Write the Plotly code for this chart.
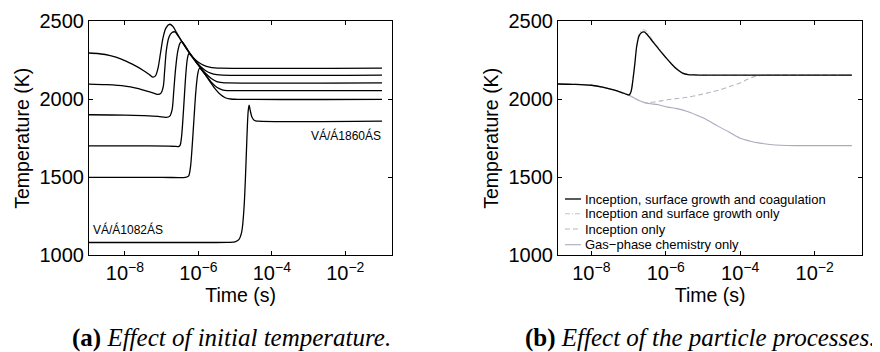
import plotly.graph_objects as go

# ---------------- data (a): effect of initial temperature ----------------
t_a1 = [1.0e-9, 2.0e-9, 3.98e-9, 7.94e-9, 1.58e-8, 3.16e-8, 4.79e-8, 5.75e-8, 6.76e-8, 7.94e-8,
        9.33e-8, 1.10e-7, 1.32e-7, 1.66e-7, 2.0e-7, 2.51e-7, 3.55e-7, 5.62e-7, 7.59e-7, 1.0e-6,
        1.41e-6, 2.0e-6, 2.82e-6, 3.98e-6, 0.1]
T_a1 = [2297, 2292, 2280, 2258, 2225, 2185, 2155, 2142, 2150, 2200,
        2300, 2400, 2460, 2481, 2468, 2430, 2370, 2300, 2262, 2238,
        2218, 2207, 2202, 2200, 2200]

t_a2 = [1.0e-9, 3.16e-9, 1.0e-8, 2.0e-8, 3.98e-8, 6.31e-8, 7.94e-8, 9.55e-8, 1.10e-7, 1.20e-7,
        1.35e-7, 1.58e-7, 1.91e-7, 2.29e-7, 2.82e-7, 3.55e-7, 5.62e-7, 7.94e-7, 1.12e-6, 1.58e-6,
        2.24e-6, 3.16e-6, 4.47e-6, 0.1]
T_a2 = [2098, 2094, 2085, 2072, 2052, 2038, 2031, 2040, 2080, 2180,
        2320, 2400, 2428, 2432, 2405, 2370, 2300, 2252, 2212, 2183,
        2166, 2158, 2155, 2155]

t_a3 = [1.0e-9, 1.0e-8, 3.16e-8, 7.94e-8, 1.32e-7, 1.66e-7, 1.91e-7, 2.14e-7, 2.40e-7, 2.75e-7,
        3.16e-7, 3.55e-7, 5.62e-7, 7.94e-7, 1.12e-6, 1.58e-6, 2.24e-6, 3.16e-6, 4.47e-6, 6.31e-6, 0.1]
T_a3 = [1901, 1899, 1895, 1890, 1884, 1892, 1930, 2060, 2200, 2310,
        2360, 2370, 2300, 2250, 2205, 2165, 2133, 2114, 2107, 2105, 2105]

t_a4 = [1.0e-9, 3.16e-8, 1.58e-7, 2.51e-7, 2.82e-7, 3.16e-7, 3.47e-7, 3.80e-7, 4.17e-7, 4.57e-7,
        5.01e-7, 5.50e-7, 7.94e-7, 1.12e-6, 1.58e-6, 2.24e-6, 3.16e-6, 4.47e-6, 6.31e-6, 8.91e-6, 0.1]
T_a4 = [1701, 1701, 1700, 1698, 1697, 1705, 1760, 1880, 2030, 2170,
        2260, 2292, 2250, 2202, 2155, 2110, 2077, 2061, 2056, 2055, 2055]

t_a5 = [1.0e-9, 1.0e-7, 4.47e-7, 5.37e-7, 6.03e-7, 6.76e-7, 7.59e-7, 8.51e-7, 9.55e-7, 1.07e-6,
        1.41e-6, 2.0e-6, 2.82e-6, 3.98e-6, 5.37e-6, 7.59e-6, 1.12e-5, 0.1]
T_a5 = [1500, 1500, 1500, 1508, 1560, 1700, 1880, 2050, 2160, 2198,
        2170, 2118, 2068, 2030, 2010, 2002, 2000, 2000]

t_a6 = [1.0e-9, 1.0e-6, 6.31e-6, 1.0e-5, 1.26e-5, 1.51e-5, 1.74e-5, 1.91e-5, 2.09e-5, 2.26e-5,
        2.40e-5, 2.57e-5, 2.88e-5, 3.39e-5, 4.17e-5, 0.1]
T_a6 = [1082, 1082, 1083, 1086, 1100, 1150, 1300, 1500, 1750, 1920,
        1962, 1930, 1885, 1864, 1860, 1860]

label_a = ["VÁ/Á1860ÁS", "VÁ/Á1082ÁS"]
label_a_x = [-1.99, -7.91]          # log10(time) positions of the labels
label_a_T = [1768, 1164]

# ---------------- data (b): effect of the particle processes ----------------
t_b1 = [1.26e-9, 3.16e-9, 1.0e-8, 2.0e-8, 3.98e-8, 6.31e-8, 8.91e-8, 1.05e-7, 1.17e-7, 1.32e-7,
        1.48e-7, 1.66e-7, 1.91e-7, 2.24e-7, 2.63e-7, 3.16e-7, 3.98e-7, 5.01e-7, 7.08e-7, 1.0e-6,
        1.41e-6, 2.0e-6, 2.82e-6, 3.98e-6, 5.62e-6, 7.94e-6, 0.1]
T_b1 = [2098, 2096, 2090, 2078, 2060, 2045, 2032, 2028, 2050, 2130,
        2230, 2340, 2405, 2428, 2432, 2415, 2385, 2355, 2310, 2268,
        2228, 2192, 2168, 2158, 2156, 2155, 2155]

t_b2 = [1.26e-9, 1.0e-8, 3.98e-8, 8.91e-8, 1.05e-7, 1.17e-7, 1.32e-7, 1.48e-7, 1.66e-7, 1.91e-7,
        2.24e-7, 2.63e-7, 3.16e-7, 3.98e-7, 5.01e-7, 7.08e-7, 1.0e-6, 1.41e-6, 2.0e-6, 2.82e-6,
        3.98e-6, 5.62e-6, 7.94e-6, 0.1]
T_b2 = [2098, 2090, 2060, 2032, 2028, 2052, 2135, 2240, 2350, 2418,
        2440, 2446, 2428, 2395, 2362, 2315, 2270, 2230, 2195, 2170,
        2159, 2156, 2155, 2155]

t_b3 = [1.26e-9, 1.0e-8, 3.98e-8, 1.0e-7, 1.41e-7, 2.0e-7, 2.82e-7, 3.98e-7, 6.31e-7, 1.12e-6,
        2.0e-6, 3.80e-6, 8.51e-6, 1.58e-5, 2.95e-5, 5.62e-5, 1.0e-4, 1.58e-4, 2.51e-4, 3.98e-4,
        7.94e-4, 0.1]
T_b3 = [2098, 2090, 2060, 2028, 2008, 1990, 1978, 1980, 1987, 1997,
        2005, 2013, 2030, 2045, 2062, 2085, 2105, 2128, 2147, 2154,
        2155, 2155]

t_b4 = [1.26e-9, 1.0e-8, 2.0e-8, 3.98e-8, 6.31e-8, 1.0e-7, 1.41e-7, 2.0e-7, 2.82e-7, 3.98e-7,
        6.31e-7, 1.12e-6, 2.0e-6, 3.80e-6, 7.08e-6, 1.29e-5, 2.51e-5, 5.01e-5, 1.0e-4, 1.78e-4,
        3.39e-4, 6.31e-4, 1.26e-3, 3.16e-3, 0.1]
T_b4 = [2098, 2090, 2078, 2060, 2045, 2028, 2008, 1990, 1977, 1971,
        1965, 1950, 1940, 1922, 1896, 1868, 1828, 1790, 1750, 1733,
        1719, 1710, 1705, 1703, 1703]

names_b = ["Inception, surface growth and coagulation",
           "Inception and surface growth only",
           "Inception only",
           "Gas\u2212phase chemistry only"]
colors_b = ["#000000", "#c4c4cc", "#b6b6c4", "#aaaabe"]
dashes_b = ["solid", "5px,2px,1px,2px", "5px,3px", "solid"]

captions = ["<b>(a)</b> <i>Effect of initial temperature.</i>",
            "<b>(b)</b> <i>Effect of the particle processes.</i>"]

# ---------------- figure ----------------
W, H = 880, 352
SANS = "Liberation Sans, Arial, sans-serif"
SERIF = "Liberation Serif, Times New Roman, serif"

fig = go.Figure()

for t, T in [(t_a1, T_a1), (t_a2, T_a2), (t_a3, T_a3), (t_a4, T_a4), (t_a5, T_a5), (t_a6, T_a6)]:
    fig.add_trace(go.Scatter(x=t, y=T, mode="lines", xaxis="x", yaxis="y", showlegend=False,
                             line=dict(color="#000000", width=1.3, shape="spline", smoothing=0.9)))

series_b = [(t_b1, T_b1), (t_b2, T_b2), (t_b3, T_b3), (t_b4, T_b4)]
# draw the grey curves first and the black one last, so it stays on top
for i in [3, 2, 1, 0]:
    t, T = series_b[i]
    fig.add_trace(go.Scatter(x=t, y=T, mode="lines", xaxis="x2", yaxis="y2", name=names_b[i],
                             showlegend=False,
                             line=dict(color=colors_b[i], width=1.3 if i == 0 else 1.1,
                                       dash=dashes_b[i], shape="spline", smoothing=0.9)))

ydom = [1 - 247.3 / H, 1 - 13.3 / H]
axis_common = dict(showline=True, linecolor="black", linewidth=1, mirror="ticks",
                   ticks="inside", ticklen=4, tickcolor="black", tickwidth=1,
                   showgrid=False, zeroline=False, automargin=False,
                   tickfont=dict(family=SANS, size=20, color="black"))

xticks = [1e-8, 1e-6, 1e-4, 1e-2]
xticktext = ["10<sup>\u22128</sup>", "10<sup>\u22126</sup>", "10<sup>\u22124</sup>", "10<sup>\u22122</sup>"]
title_font = dict(family=SANS, size=19.5, color="black")

fig.update_layout(
    width=W, height=H, margin=dict(l=0, r=0, t=0, b=0),
    paper_bgcolor="white", plot_bgcolor="white",
    font=dict(family=SANS, color="black"),
    xaxis=dict(domain=[81 / W, 384.3 / W], type="log", range=[-8.98, -0.72], anchor="y",
               tickvals=xticks, ticktext=xticktext,
               title=dict(text="Time (s)", font=title_font, standoff=5),
               **axis_common),
    yaxis=dict(domain=ydom, range=[1000, 2500], anchor="x", tickvals=[1000, 1500, 2000, 2500],
               title=dict(text="Temperature (K)", font=title_font, standoff=4),
               **axis_common),
    xaxis2=dict(domain=[550 / W, 854.3 / W], type="log", range=[-8.895, -0.72], anchor="y2",
                tickvals=xticks, ticktext=xticktext,
                title=dict(text="Time (s)", font=title_font, standoff=5),
                **axis_common),
    yaxis2=dict(domain=ydom, range=[1000, 2500], anchor="x2", tickvals=[1000, 1500, 2000, 2500],
                title=dict(text="Temperature (K)", font=title_font, standoff=4),
                **axis_common),
)

# curve labels in panel (a)
for txt, lx, ly in zip(label_a, label_a_x, label_a_T):
    fig.add_annotation(x=lx, y=ly, xref="x", yref="y", text=txt, showarrow=False,
                       font=dict(family=SANS, size=12, color="black"))

# legend of panel (b), drawn inside the axes like the original
leg_rows = [191, 205.7, 221, 236.7]
for i, yy in enumerate(leg_rows):
    fig.add_shape(type="line", xref="paper", yref="paper",
                  x0=557 / W, x1=573 / W, y0=1 - yy / H, y1=1 - yy / H,
                  line=dict(color=colors_b[i], width=1.3 if i == 0 else 1.1, dash=dashes_b[i]))
    fig.add_annotation(x=574.5 / W, y=1 - yy / H, xref="paper", yref="paper", text=names_b[i],
                       showarrow=False, xanchor="left", yanchor="middle",
                       font=dict(family=SANS, size=13, color="black"))

# sub-figure captions
for txt, cx in zip(captions, [62, 515]):
    fig.add_annotation(x=cx / W, y=1 - 330 / H, xref="paper", yref="paper", text=txt,
                       showarrow=False, xanchor="left", yanchor="middle",
                       font=dict(family=SERIF, size=25, color="black"))

fig.write_html("out.html")
